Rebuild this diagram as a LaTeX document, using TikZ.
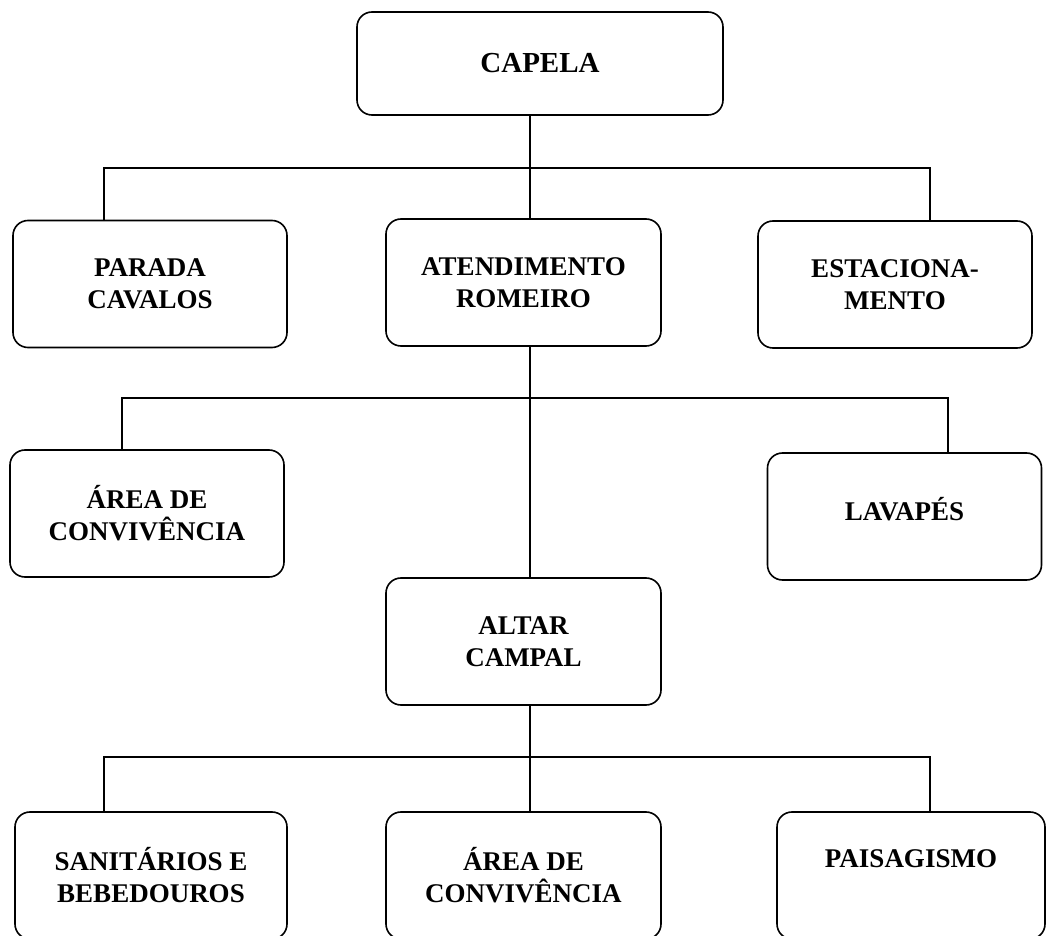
\documentclass[tikz,border=0pt]{standalone}
\usepackage{fontspec}
\setmainfont{Liberation Serif}
\usepackage{tikz}

\begin{document}
\begin{tikzpicture}[x=0.5pt,y=-0.5pt,
	box/.style={draw,rounded corners=7.5pt,line width=0.8pt,align=center,inner sep=0pt,outer sep=0pt,
		minimum width=137pt,minimum height=63.5pt,font=\fontsize{13.5}{16}\selectfont\bfseries},
	wire/.style={line width=0.8pt}]
	\path[use as bounding box,fill=white] (0,0) rectangle (1046,936);
	\clip (0,0) rectangle (1046,936);
	% top
	\node[box,minimum width=183pt,minimum height=51.5pt,font=\fontsize{14.5}{16}\selectfont\bfseries] (capela) at (540,63.5) {CAPELA};
	% second row
	\node[box] (parada) at (150,284) {PARADA\\CAVALOS};
	\node[box,minimum width=137.5pt] (atend) at (523.5,282.5) {ATENDIMENTO\\ROMEIRO};
	\node[box] (estac) at (895,284.5) {ESTACIONA-\\MENTO};
	% third row
	\node[box] (areaA) at (147,513.5) {ÁREA DE\\CONVIVÊNCIA};
	\node[box,text depth=7.5pt] (lavapes) at (904.5,516.5) {LAVAPÉS};
	\node[box,minimum width=137.5pt] (altar) at (523.5,641.5) {ALTAR\\CAMPAL};
	% bottom row
	\node[box,minimum width=136pt] (sanit) at (151,875.5) {SANITÁRIOS E\\BEBEDOUROS};
	\node[box,minimum width=137.5pt] (areaB) at (523.5,875.5) {ÁREA DE\\CONVIVÊNCIA};
	\node[box,minimum width=134pt,text depth=17pt] (paisag) at (911,875.5) {PAISAGISMO};
	% connectors
	\coordinate (spine) at (530,0);
	\coordinate (bus1) at (530,168);
	\coordinate (bus2) at (530,398);
	\coordinate (bus3) at (530,757);
	\draw[wire] (capela.south -| spine) -- (atend.north -| spine);
	\draw[wire] (atend.south -| spine) -- (altar.north -| spine);
	\draw[wire] (altar.south -| spine) -- (areaB.north -| spine);
	\draw[wire] ([xshift=-23pt]parada.north) |- (bus1) -| ([xshift=17.5pt]estac.north);
	\draw[wire] ([xshift=-12.5pt]areaA.north) |- (bus2) -| ([xshift=21.75pt]lavapes.north);
	\draw[wire] ([xshift=-23.5pt]sanit.north) |- (bus3) -| ([xshift=9.5pt]paisag.north);
\end{tikzpicture}
\end{document}
